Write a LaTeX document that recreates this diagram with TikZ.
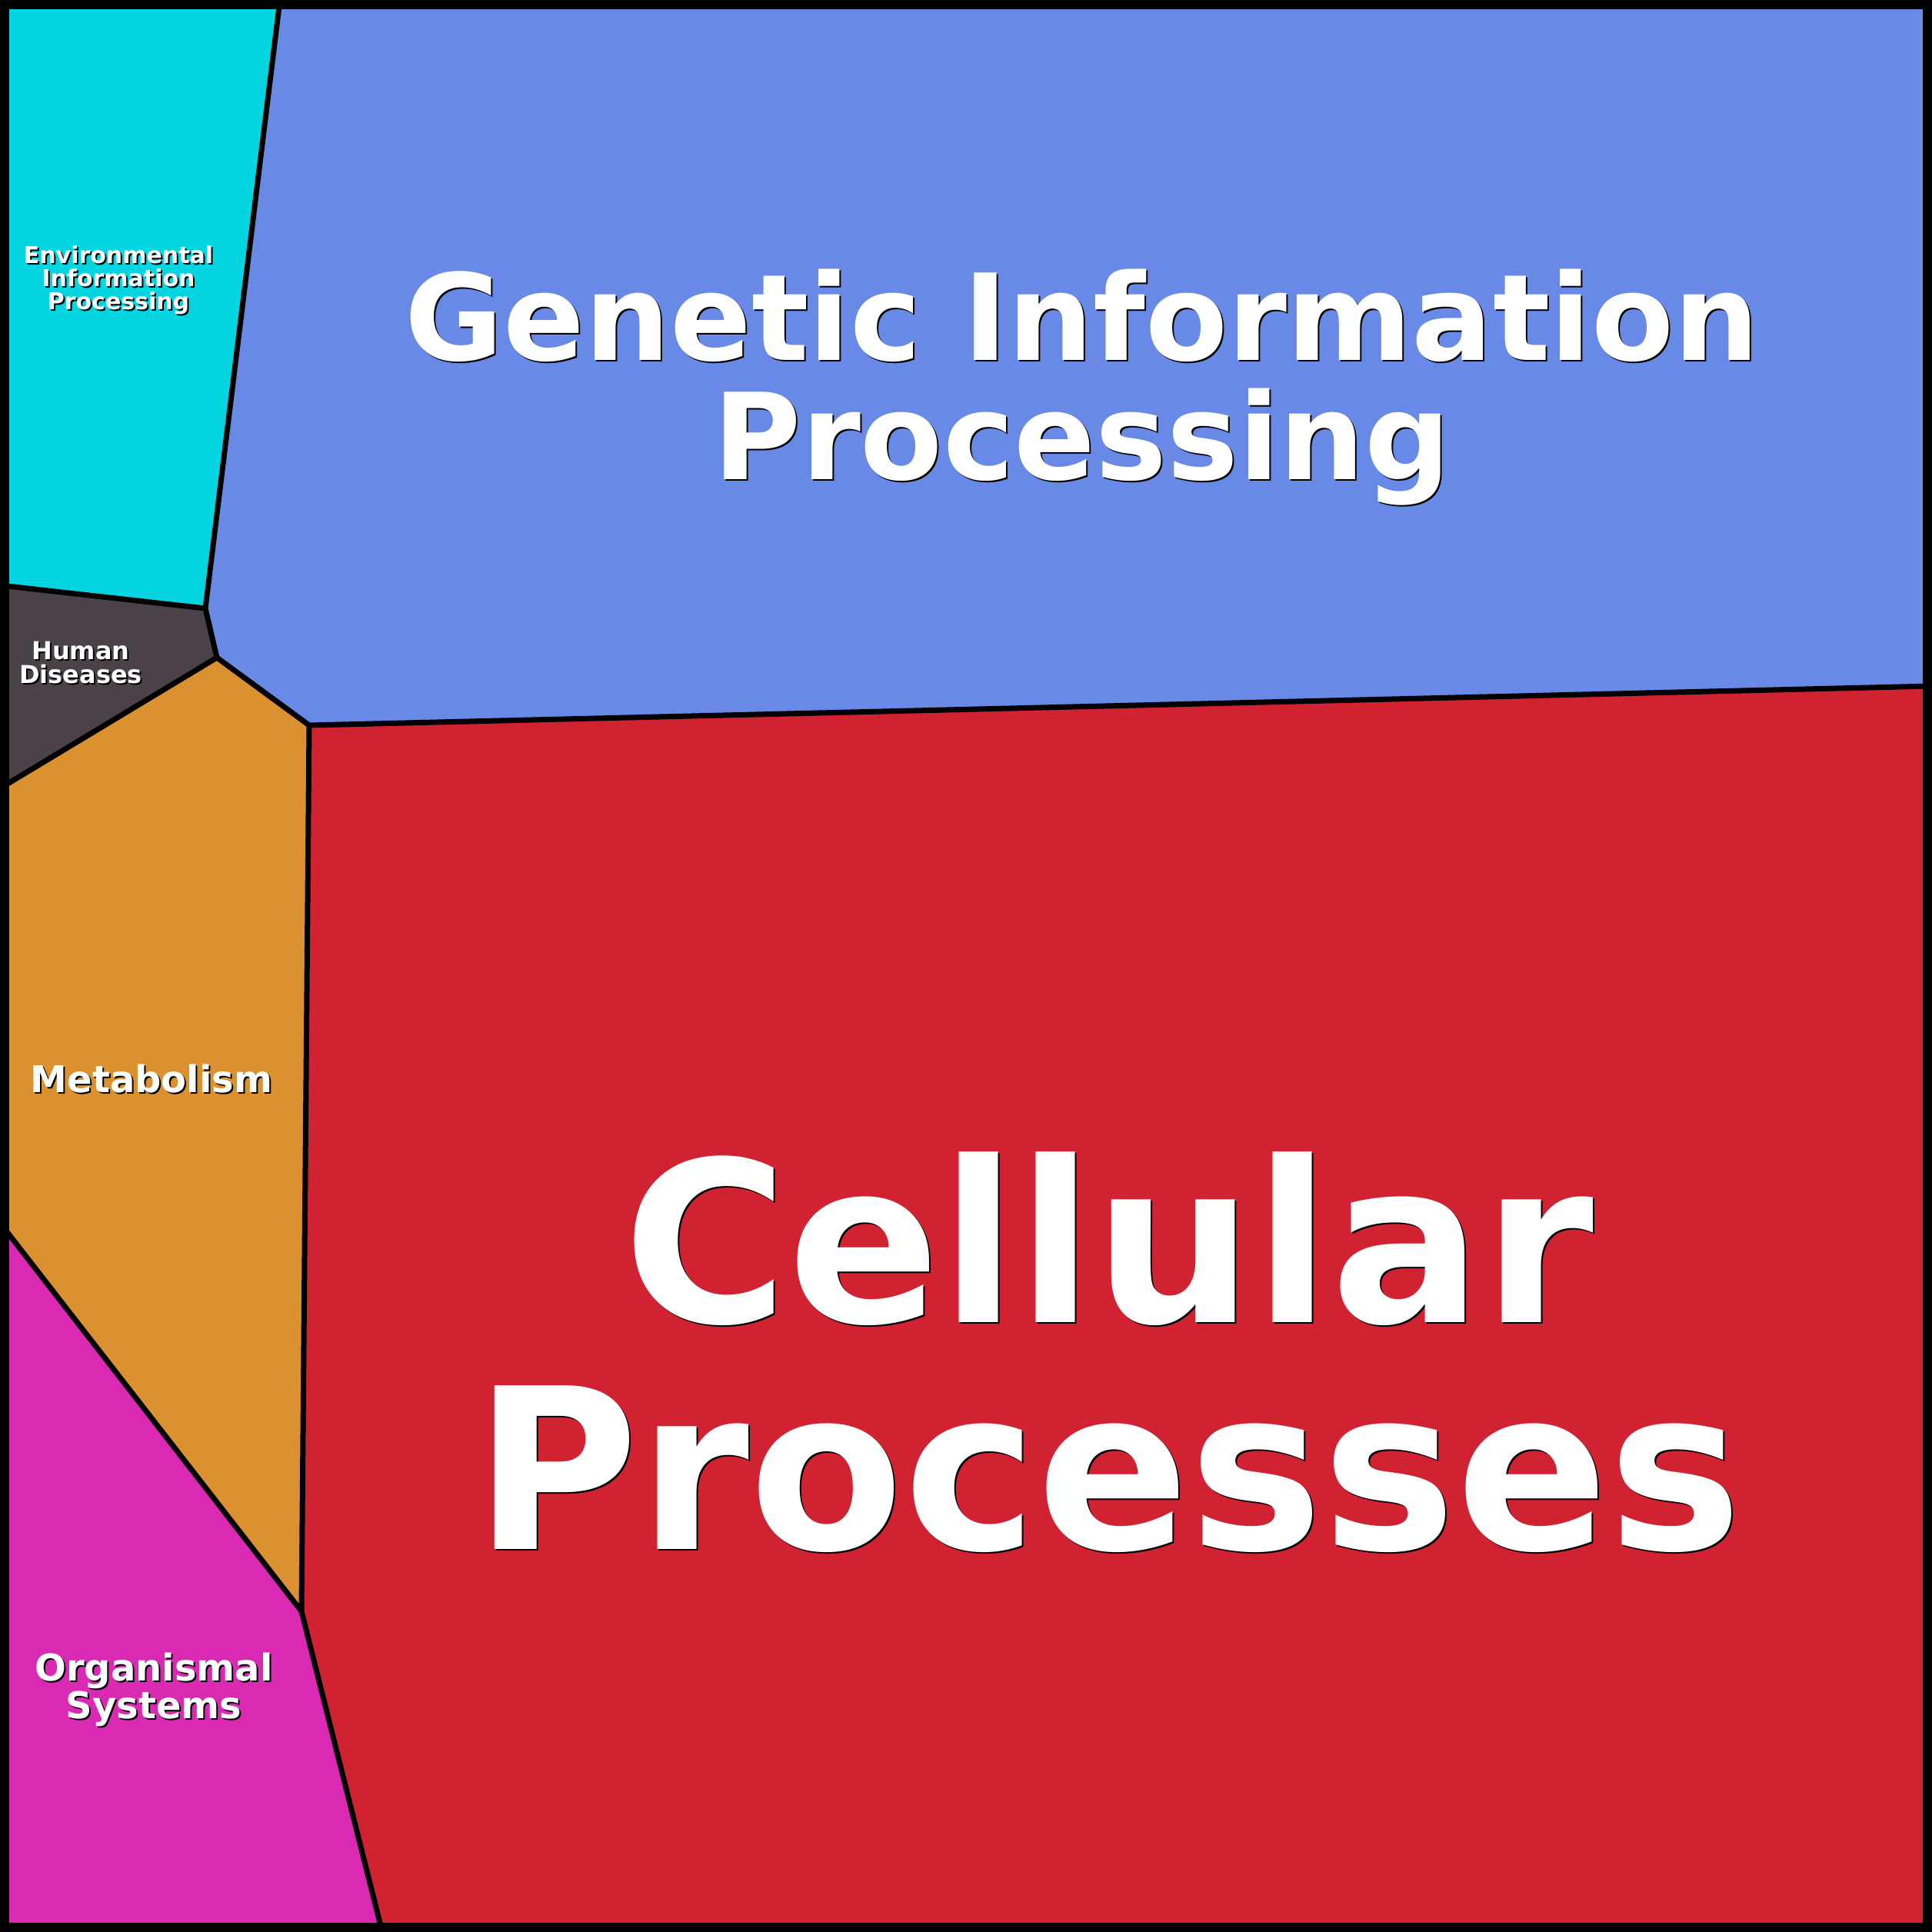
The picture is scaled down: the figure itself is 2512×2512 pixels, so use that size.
\documentclass[tikz,border=0pt]{standalone}
\usepackage{fontspec}
\setmainfont{DejaVu Sans}
\usepackage{tikz}

\definecolor{envblue}{HTML}{04D5E0}
\definecolor{genblue}{HTML}{6889E6}
\definecolor{humgray}{HTML}{4B4249}
\definecolor{metorange}{HTML}{DC9130}
\definecolor{orgpink}{HTML}{DA29B2}
\definecolor{celred}{HTML}{D12232}

\begin{document}
\begin{tikzpicture}[x=1pt,y=-1pt]
\tikzset{ inner sep=0pt, outer sep=0pt,
  edge/.style={draw=black, line width=7pt, line join=miter},
  lbl/.style={text=white, align=center, anchor=base},
  lblshade/.style={lbl, text=black, xshift=2pt, yshift=-2pt},
}

\useasboundingbox (0,0) rectangle (2512,2512);

%\draw [lightgray, dashed](0,0) grid[step=100] (2512,2512);

\coordinate (TL) at (   0,   0);
\coordinate (TR) at (2512,   0);
\coordinate (BR) at (2512,2512);
\coordinate (BL) at (   0,2512);

\coordinate (A) at ( 364,   0);
\coordinate (B) at ( 267, 791);
\coordinate (C) at (   0, 761);
\coordinate (D) at ( 282, 855);
\coordinate (E) at (   0,1025);
\coordinate (F) at ( 402, 943);
\coordinate (G) at (2512, 892);
\coordinate (H) at ( 392,2095);
\coordinate (I) at (   0,1590);
\coordinate (J) at ( 497,2512);

\fill [envblue]   (TL)--(A)--(B)--(C)--cycle;
\fill [genblue]   (A)--(TR)--(G)--(F)--(D)--(B)--cycle;
\fill [humgray]   (C)--(B)--(D)--(E)--cycle;
\fill [metorange] (E)--(D)--(F)--(H)--(I)--cycle;
\fill [orgpink]   (I)--(H)--(J)--(BL)--cycle;
\fill [celred]    (F)--(G)--(BR)--(J)--(H)--cycle;

\draw [edge] (A)--(B)--(C);
\draw [edge] (B)--(D)--(E);
\draw [edge] (D)--(F)--(G);
\draw [edge] (F)--(H)--(I);
\draw [edge] (H)--(J);
\draw [line width=24pt] (TL) rectangle (BR);

% base anchor sits on the last line
\node [lblshade, font=\bfseries\fontsize{30}{30}\selectfont] (envS) at (154,402) {Environmental\\Information\\Processing};
\node [lbl, font=\bfseries\fontsize{30}{30}\selectfont] (env) at (154,402) {Environmental\\Information\\Processing};

\node [lblshade, font=\bfseries\fontsize{32}{31}\selectfont] (humS) at (105,888) {Human\\Diseases};
\node [lbl, font=\bfseries\fontsize{32}{31}\selectfont] (hum) at (105,888) {Human\\Diseases};

\node [lblshade, font=\bfseries\fontsize{48}{48}\selectfont] (metS) at (197,1420) {Metabolism};
\node [lbl, font=\bfseries\fontsize{48}{48}\selectfont] (met) at (197,1420) {Metabolism};

\node [lblshade, font=\bfseries\fontsize{48}{49}\selectfont] (orgS) at (200,2234) {Organismal\\Systems};
\node [lbl, font=\bfseries\fontsize{48}{49}\selectfont] (org) at (200,2234) {Organismal\\Systems};

\node [lblshade, font=\bfseries\fontsize{156}{155}\selectfont] (genS) at (1407,623) {Genetic Information\\Processing};
\node [lbl, font=\bfseries\fontsize{156}{155}\selectfont] (gen) at (1407,623) {Genetic Information\\Processing};

\node [lblshade, font=\bfseries\fontsize{292}{295}\selectfont] (celS) at (1441,2014) {Cellular\\Processes};
\node [lbl, font=\bfseries\fontsize{292}{295}\selectfont] (cel) at (1441,2014) {Cellular\\Processes};

\end{tikzpicture}
\end{document}
